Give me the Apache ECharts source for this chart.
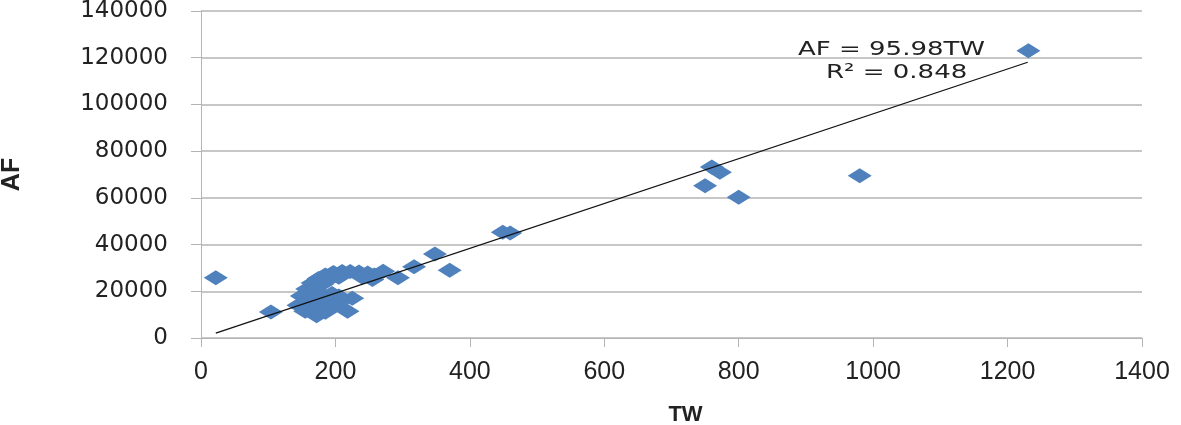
<!DOCTYPE html>
<html>
<head>
<meta charset="utf-8">
<script src="https://cdn.jsdelivr.net/npm/echarts@6/dist/echarts.min.js"></script>
<style>
  html, body { margin: 0; padding: 0; background: #fff; }
  #chart { width: 1181px; height: 425px; }
</style>
</head>
<body>
<div id="chart"></div>
<script>
// TW (x) and AF (y)
const twValues = [
  22, 104,
  150, 158, 166, 175, 185, 197, 210, 222, 235, 248, 258,
  170, 180, 190, 205, 240, 255,
  145, 155, 160, 172, 178, 185, 190, 200, 205, 212, 218, 225, 195, 180, 165,
  271, 293, 317, 348, 370,
  449, 460,
  750, 760, 772, 800, 980, 1231
]
const afValues = [
  25800, 11100,
  18000, 21000, 23500, 25500, 27000, 28000, 28500, 28500, 28300, 27800, 27000,
  20500, 23000, 25000, 26000, 26000, 25000,
  14000, 11500, 16000, 9500, 13000, 11000, 15500, 14000, 18000, 16500, 11500, 17000, 19000, 17500, 13000,
  28600, 25800, 30500, 36000, 29000,
  45300, 45000,
  65200, 73200, 71000, 60300, 69500, 123000
]
const xTicks = [0, 200, 400, 600, 800, 1000, 1200, 1400]
const yTicks = [0, 20000, 40000, 60000, 80000, 100000, 120000, 140000]

// trendline through origin: AF = 95.98 TW
const slope = 95.98
const trendRange = [22, 1230]

const points = twValues.map((x, i) => [x, afValues[i]])
const trendPoints = trendRange.map(x => [x, slope * x])

const gridColor = '#b4b4b4'

const chart = echarts.init(document.getElementById('chart'), null, { renderer: 'canvas' })
chart.setOption({
  animation: false,
  grid: { left: 201, right: 39, top: 11, bottom: 87, containLabel: false, outerBoundsMode: 'none' },
  xAxis: {
    type: 'value',
    min: xTicks[0],
    max: xTicks[xTicks.length - 1],
    interval: 200,
    name: 'TW',
    nameLocation: 'middle',
    nameGap: 66,
    nameTextStyle: { fontFamily: 'Liberation Sans', fontWeight: 'bold', fontSize: 22, color: '#222', verticalAlign: 'top', padding: [0, 0, 0, 28] },
    axisLine: { show: true, lineStyle: { color: gridColor } },
    axisTick: { show: true, length: 9, lineStyle: { color: gridColor } },
    splitLine: { show: false },
    axisLabel: { margin: 22, fontFamily: 'Liberation Sans', fontSize: 25, color: '#222', formatter: v => String(v) }
  },
  yAxis: {
    type: 'value',
    min: yTicks[0],
    max: yTicks[yTicks.length - 1],
    interval: 20000,
    name: 'AF',
    nameLocation: 'middle',
    nameRotate: 90,
    nameGap: 176,
    nameTextStyle: { fontFamily: 'Liberation Sans', fontWeight: 'bold', fontSize: 25, color: '#222' },
    axisLine: { show: true, lineStyle: { color: gridColor } },
    axisTick: { show: true, length: 10, lineStyle: { color: gridColor } },
    splitLine: { show: true, lineStyle: { color: gridColor, width: 1.5 } },
    axisLabel: { margin: 33, fontFamily: 'DejaVu Sans', fontSize: 23, color: '#222', formatter: v => String(v) }
  },
  graphic: [
    {
      type: 'text', left: 798, top: 40, scaleX: 1.3,
      style: { text: 'AF = 95.98TW', font: '20px "DejaVu Sans"', fill: '#222' }
    },
    {
      type: 'text', left: 826, top: 63, scaleX: 1.3,
      style: { text: 'R² = 0.848', font: '20px "DejaVu Sans"', fill: '#222' }
    }
  ],
  series: [
    {
      type: 'scatter',
      data: points,
      symbol: 'diamond',
      symbolSize: [24, 15],
      itemStyle: { color: '#4f81bd', opacity: 1 },
      z: 2
    },
    {
      type: 'line',
      data: trendPoints,
      symbol: 'none',
      lineStyle: { color: '#111', width: 1.3 },
      z: 3
    }
  ]
})
</script>
</body>
</html>
